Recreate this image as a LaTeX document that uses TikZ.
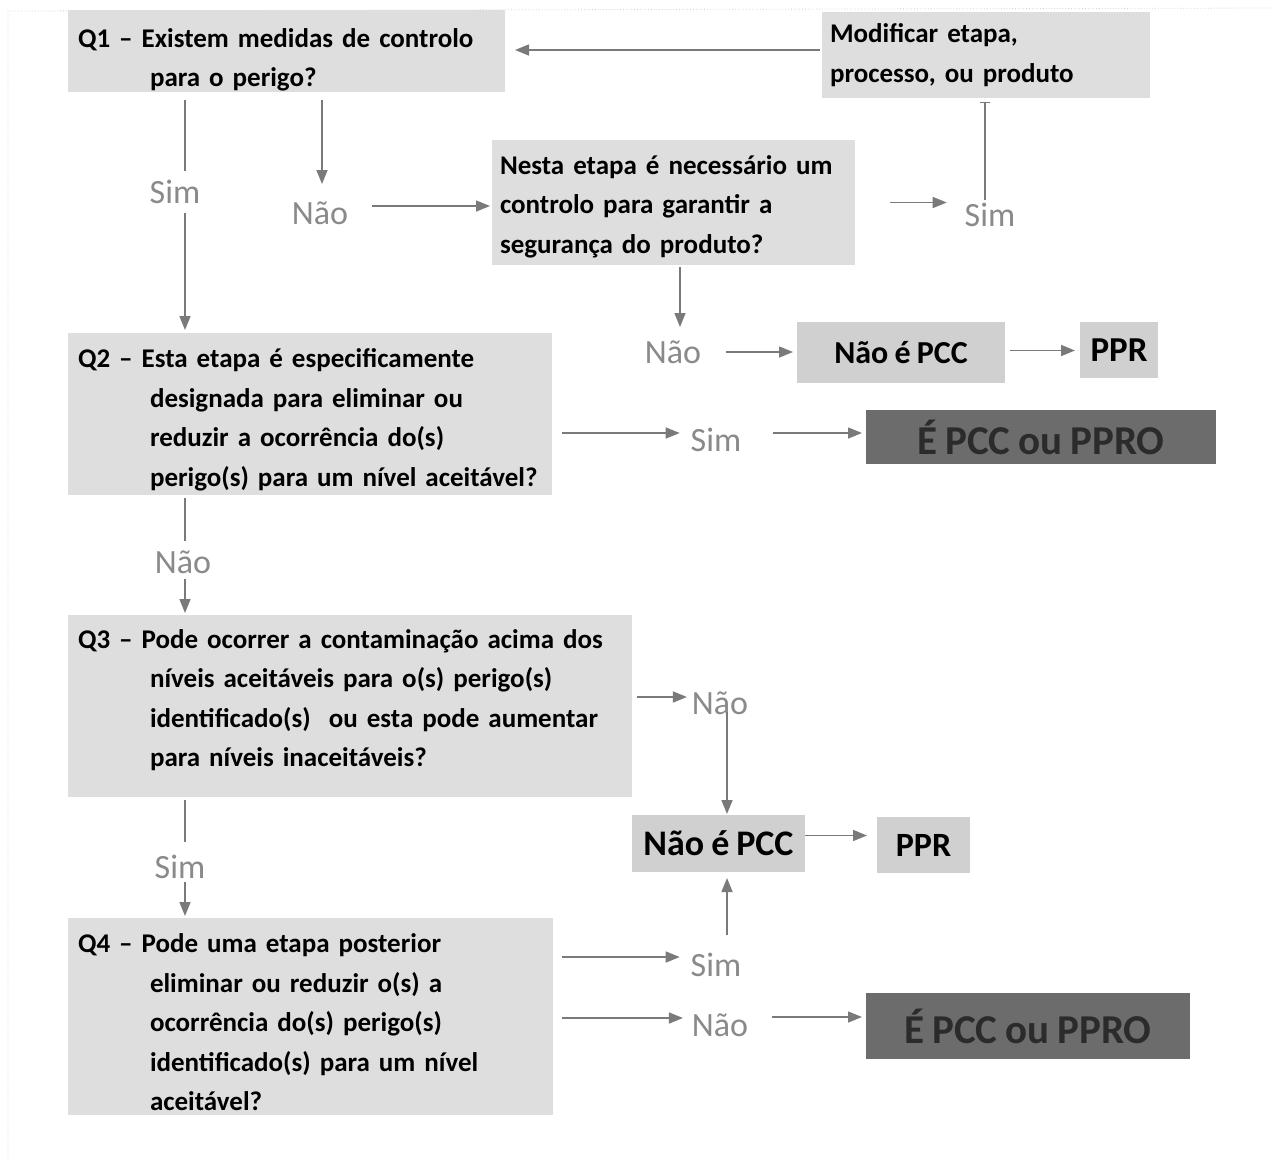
\documentclass[tikz,border=0pt]{standalone}
\usepackage{fontspec}
\setmainfont{Carlito}[WordSpace=0.85]
\usetikzlibrary{arrows.meta,calc}

\definecolor{boxgray}{HTML}{DEDEDE}
\definecolor{smallgray}{HTML}{D0D0D0}
\definecolor{darkbox}{HTML}{6C6C6C}
\definecolor{darktext}{HTML}{2B2B2B}
\definecolor{lblgray}{HTML}{8A8A8A}
\definecolor{linegray}{HTML}{7A7A7A}

\newcommand{\qfont}{\fontsize{27pt}{39.5pt}\selectfont\bfseries}
\newcommand{\lblfont}{\fontsize{34pt}{40pt}\selectfont}
\newcommand{\qind}{\hspace*{72pt}}
% struts that move a text block down (top) or up (bottom) inside its box
\newcommand{\topstrut}[1]{\rule{0pt}{#1}}
\newcommand{\botstrut}[1]{\rule[-#1]{0pt}{0pt}}

\begin{document}
\begin{tikzpicture}[x=1pt,y=-1pt,
  qbox/.style={fill=boxgray, text=black, font=\qfont, align=left,
    inner xsep=10pt, inner ysep=0pt, outer sep=0pt},
  sbox/.style={fill=smallgray, text=black, inner sep=0pt, outer sep=0pt},
  dbox/.style={fill=darkbox, text=darktext, inner sep=0pt, outer sep=0pt,
    font=\fontsize{41pt}{45pt}\selectfont\bfseries},
  lbl/.style={text=lblgray, font=\lblfont, inner sep=0pt, outer sep=0pt,
    text height=22pt, text depth=0pt},
  ln/.style={draw=linegray, line width=1.5pt},
  arr/.style={ln, -{Triangle[length=14pt,width=11pt]}},
  bararr/.style={ln, -{Bar[width=10pt,line width=1.4pt]}}
]
% page frame
\useasboundingbox (0,0) rectangle (1274,1160);
\fill[white] (0,0) rectangle (1274,1160);
\draw[gray!35, line width=0.8pt, dotted] (8,1160) -- (8,11) -- (1274,8);

% question boxes
\node[qbox, minimum height=78pt, text width=417pt] (q1) at (286.5,51)
  {\topstrut{37pt}Q1 – Existem medidas de controlo\\\qind para o perigo?};
\node[qbox, minimum height=162pt, text width=464pt] (q2) at (310,414)
  {\topstrut{31pt}Q2 – Esta etapa é especificamente\\\qind designada para eliminar ou\\\qind reduzir a ocorrência do(s)\\\qind perigo(s) para um nível aceitável?};
\node[qbox, minimum height=182pt, text width=544pt] (q3) at (350,706)
  {Q3 – Pode ocorrer a contaminação acima dos\\\qind níveis aceitáveis para o(s) perigo(s)\\\qind identificado(s)\ \ ou esta pode aumentar\\\qind para níveis inaceitáveis?\botstrut{15.5pt}};
\node[qbox, minimum height=197pt, text width=465pt] (q4) at (310.5,1016.5)
  {\topstrut{31pt}Q4 – Pode uma etapa posterior\\\qind eliminar ou reduzir o(s) a\\\qind ocorrência do(s) perigo(s)\\\qind identificado(s) para um nível\\\qind aceitável?};

\node[qbox, inner xsep=8pt, minimum height=86pt, text width=312pt] (mod) at (986,55)
  {Modificar etapa,\\processo, ou produto};
\node[qbox, inner xsep=8pt, minimum height=125pt, text width=347pt] (nesta) at (673.5,202.5)
  {\topstrut{27pt}Nesta etapa é necessário um\\controlo para garantir a\\segurança do produto?};

% outcome boxes
\node[sbox, minimum width=208pt, minimum height=61pt,
  font=\fontsize{32pt}{36pt}\selectfont\bfseries] (npcc1) at (901,352.5) {Não é PCC};
\node[sbox, minimum width=78pt, minimum height=56pt,
  font=\fontsize{35pt}{38pt}\selectfont\bfseries] (ppr1) at (1119,350) {PPR};
\node[dbox, minimum width=350pt, minimum height=54pt] (pcc1) at (1041,437) {É PCC ou PPRO};
\node[sbox, minimum width=173pt, minimum height=57pt,
  font=\fontsize{36pt}{40pt}\selectfont\bfseries] (npcc2) at (718.5,843.5) {Não é PCC};
\node[sbox, minimum width=93pt, minimum height=56pt,
  font=\fontsize{34pt}{38pt}\selectfont\bfseries] (ppr2) at (923.5,845) {PPR};
\node[dbox, minimum width=324pt, minimum height=66pt] (pcc2) at (1028,1026) {É PCC ou PPRO};

% answer labels
\node[lbl] (sim1) at (175,192) {Sim};
\node[lbl] (nao1) at (320,213) {Não};
\node[lbl] (sim2) at (990,215) {Sim};
\node[lbl] (nao2) at (673,352) {Não};
\node[lbl] (sim3) at (716,440) {Sim};
\node[lbl] (nao3) at (183,562) {Não};
\node[lbl] (nao4) at (720,703) {Não};
\node[lbl] (sim4) at (180,867) {Sim};
\node[lbl] (sim5) at (716,965) {Sim};
\node[lbl] (nao5) at (720,1025) {Não};

% connectors
\draw[arr] ($(mod.west)+(-2,-5)$) -- ($(mod.west -| q1.east)+(10,-5)$);

\draw[ln]  ($(sim1.north |- q1.south)+(10,8)$) -- ($(sim1.north)+(10,-10)$);
\draw[arr] ($(sim1.south)+(10,10)$) -- ($(sim1.south |- q2.north)+(10,-3)$);

\draw[arr] ($(nao1.north |- q1.south)+(2,8)$) -- ($(nao1.north)+(2,-18)$);
\draw[arr] ($(nao1.east)+(24,-7)$) -- ($(nao1.east -| nesta.west)+(-2,-7)$);

\draw[arr] ($(nesta.east)+(35,0)$) -- ($(nesta.east -| sim2.west)+(-18,0)$);
\draw[bararr] ($(sim2.north)+(-5,-4)$) -- ($(sim2.north |- mod.south)+(-5,4)$);

\draw[arr] ($(nao2.north |- nesta.south)+(7,2)$) -- ($(nao2.north)+(7,-14)$);
\draw[arr] ($(nao2.east)+(25,0)$) -- ($(nao2.east -| npcc1.west)+(-4,0)$);
\draw[arr] ($(npcc1.east)+(5,-2)$) -- ($(npcc1.east -| ppr1.west)+(-5,-2)$);

\draw[arr] ($(q2.east)+(10,19)$) -- ($(q2.east -| sim3.west)+(-11,19)$);
\draw[arr] ($(sim3.east)+(32,-7)$) -- ($(sim3.east -| pcc1.west)+(-4,-7)$);

\draw[ln]  ($(nao3.north |- q2.south)+(2,3)$) -- ($(nao3.north)+(2,-10)$);
\draw[arr] ($(nao3.south)+(2,6)$) -- ($(nao3.south |- q3.north)+(2,-2)$);

\draw[arr] ($(q3.east)+(5,-9)$) -- ($(q3.east -| nao4.west)+(-5,-9)$);
\draw[arr] ($(nao4.center)+(7,9)$) -- ($(nao4.center |- npcc2.north)+(7,-1)$);
\draw[arr] ($(npcc2.east)+(0,-8)$) -- ($(npcc2.east -| ppr2.west)+(-10,-8)$);

\draw[ln]  ($(sim4.north |- q3.south)+(5,3)$) -- ($(sim4.north)+(5,-14)$);
\draw[arr] ($(sim4.south)+(5,4)$) -- ($(sim4.south |- q4.north)+(5,-2)$);

\draw[arr] ($(q4.east)+(9,-59.5)$) -- ($(q4.east -| sim5.west)+(-11,-59.5)$);
\draw[arr] ($(sim5.north)+(11,-19)$) -- ($(sim5.north |- npcc2.south)+(11,6)$);
\draw[arr] ($(q4.east)+(9,1.5)$) -- ($(q4.east -| nao5.west)+(-9,1.5)$);
\draw[arr] ($(nao5.east)+(24,-8)$) -- ($(nao5.east -| pcc2.west)+(-4,-8)$);
\end{tikzpicture}
\end{document}
